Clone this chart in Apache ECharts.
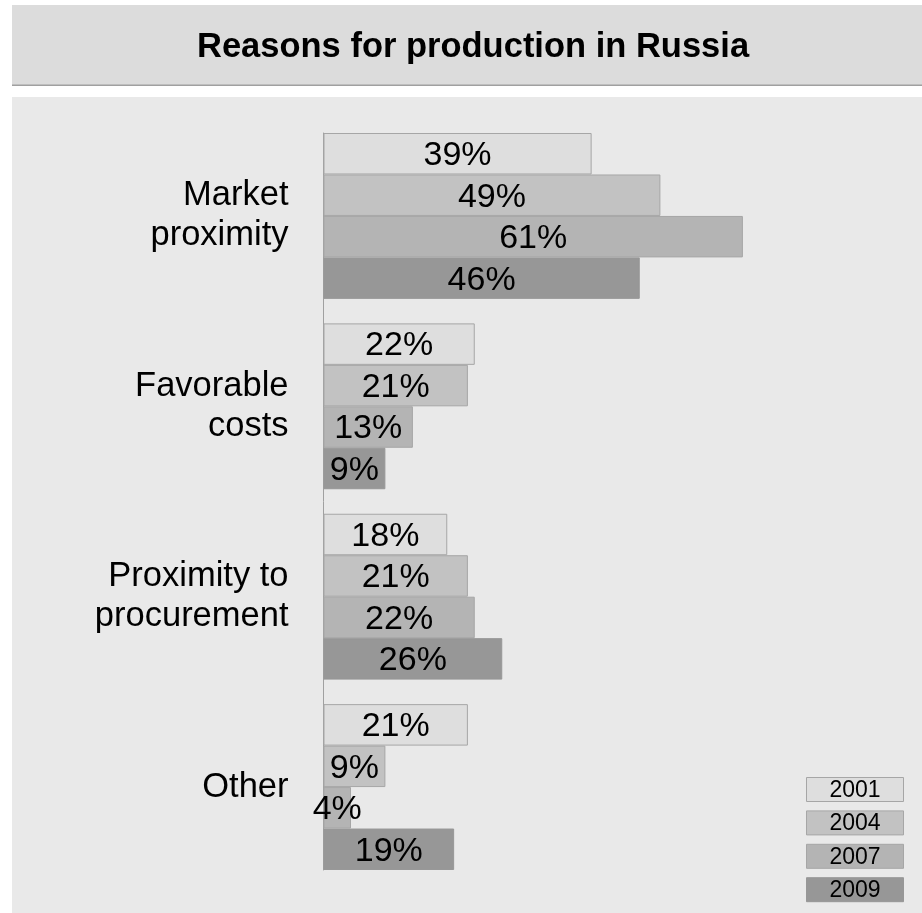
<!DOCTYPE html>
<html>
<head>
<meta charset="utf-8">
<script src="https://cdn.jsdelivr.net/npm/echarts@6/dist/echarts.min.js"></script>
<style>
html,body{margin:0;padding:0;background:#ffffff;}
#chart{width:922px;height:913px;}
</style>
</head>
<body>
<div id="chart"></div>
<script>
// ---- data ----
const titleText = 'Reasons for production in Russia';
const categories = ['Market\nproximity', 'Favorable\ncosts', 'Proximity to\nprocurement', 'Other'];
const years = ['2001', '2004', '2007', '2009'];
const v2001 = [39, 22, 18, 21];
const v2004 = [49, 21, 21, 9];
const v2007 = [61, 13, 22, 4];
const v2009 = [46, 9, 26, 19];
const seriesValues = [v2001, v2004, v2007, v2009];

// ---- style ----
const FONT = '"Liberation Sans", Arial, Helvetica, sans-serif';
const colors = ['#dedede', '#c2c2c2', '#b4b4b4', '#979797'];
const borders = ['#a6a6a6', '#a6a6a6', '#a6a6a6', '#979797'];
const axisLeft = 323.5;
const pxPerUnit = 6.875;
const xMax = 80;
const gridTop = 120.75;
const gridHeight = 761.5;

const chart = echarts.init(document.getElementById('chart'), null, {renderer: 'canvas'});

const series = years.map((y, i) => ({
  name: y,
  type: 'bar',
  xAxisIndex: 0,
  yAxisIndex: 0,
  data: seriesValues[i],
  barGap: 0,
  barCategoryGap: '12.87%',
  itemStyle: {color: colors[i], borderColor: borders[i], borderWidth: 1},
  label: {
    show: true,
    position: 'inside',
    offset: [0, 2],
    formatter: '{c}%',
    color: '#000',
    fontFamily: FONT,
    fontSize: 34
  },
  emphasis: {disabled: true}
}));

// legend drawn as boxes with text inside (built from years/colors)
const legendGraphics = years.map((y, i) => ({
  type: 'group',
  left: 806,
  top: 777 + i * 33.4,
  children: [
    {type: 'rect', shape: {x: 0, y: 0, width: 97, height: 24},
     style: {fill: colors[i], stroke: borders[i], lineWidth: 1}},
    {type: 'text', x: 48.5, y: 13,
     style: {text: y, fill: '#000', font: '23px ' + FONT, textAlign: 'center', textVerticalAlign: 'middle'}}
  ]
}));

const option = {
  animation: false,
  backgroundColor: '#ffffff',
  title: {
    text: titleText,
    left: 192,
    top: 25,
    textStyle: {fontFamily: FONT, fontSize: 34.5, fontWeight: 'bold', color: '#000'}
  },
  graphic: [
    {type: 'rect', left: 12, top: 5, z: -10, silent: true,
     shape: {width: 910, height: 80}, style: {fill: '#dcdcdc'}},
    {type: 'rect', left: 12, top: 84.5, z: -10, silent: true,
     shape: {width: 910, height: 1.5}, style: {fill: '#a0a0a0'}},
    {type: 'rect', left: 12, top: 97, z: -10, silent: true,
     shape: {width: 910, height: 816}, style: {fill: '#e9e9e9'}}
  ].concat(legendGraphics),
  grid: [
    {left: axisLeft, top: gridTop, width: xMax * pxPerUnit, height: gridHeight, containLabel: false},
    {left: axisLeft, top: 133, width: 10, height: 737, containLabel: false}
  ],
  xAxis: [
    {type: 'value', gridIndex: 0, min: 0, max: xMax, show: false},
    {type: 'value', gridIndex: 1, min: 0, max: 1, show: false}
  ],
  yAxis: [
    {
      type: 'category', gridIndex: 0, data: categories, inverse: true,
      axisLine: {show: false}, axisTick: {show: false}, splitLine: {show: false},
      axisLabel: {color: '#000', fontFamily: FONT, fontSize: 34.5, lineHeight: 40, margin: 35, align: 'right', padding: [4, 0, 0, 0]}
    },
    {
      type: 'category', gridIndex: 1, data: [''],
      axisLine: {show: true, lineStyle: {color: '#a0a0a0', width: 1}},
      axisTick: {show: false}, axisLabel: {show: false}, splitLine: {show: false}
    }
  ],
  series: series
};
chart.setOption(option);
</script>
</body>
</html>
